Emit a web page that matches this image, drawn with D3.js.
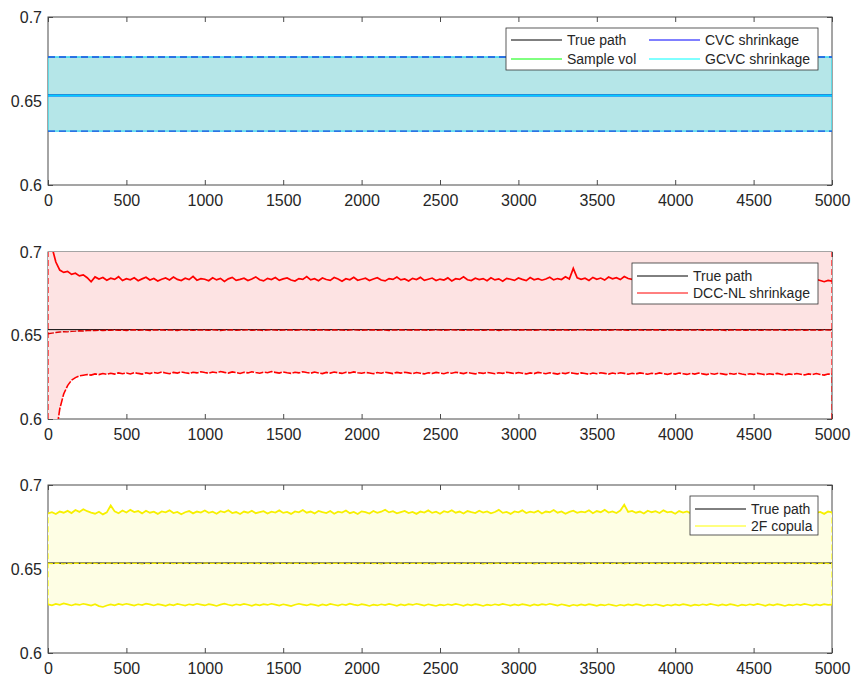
<!DOCTYPE html>
<html>
<head>
<meta charset="utf-8">
<script src="https://cdn.jsdelivr.net/npm/d3@7"></script>
<style>
  html, body { margin: 0; padding: 0; background: #fff; }
  svg { display: block; font-family: "Liberation Sans", Arial, Helvetica, sans-serif; }
</style>
</head>
<body>
<svg id="chart" width="851" height="677"></svg>
<script>
// ---------- data ----------
const xTicks = [0, 500, 1000, 1500, 2000, 2500, 3000, 3500, 4000, 4500, 5000];
const yTicks = [0.6, 0.65, 0.7];
const yTickLabels = ["0.6", "0.65", "0.7"];

// constant paths (defined at the two end points)
const flatSteps = [0, 5000];
const truePath = [0.6535, 0.6535];
const cvcUpper = [0.6762, 0.6762];
const cvcMid = [0.6533, 0.6533];
const cvcLower = [0.6321, 0.6321];
const gcvcUpper = [0.6762, 0.6762];
const gcvcMid = [0.6533, 0.6533];
const gcvcLower = [0.6321, 0.6321];

// simulated paths, sampled every 25 steps
const steps = d3.range(0, 5001, 25);

const dccUpper = [
  0.7600, 0.7030, 0.6940, 0.6892, 0.6878, 0.6884, 0.6866, 0.6873, 0.6857, 0.6863,
  0.6846, 0.6822, 0.6851, 0.6838, 0.6847, 0.6831, 0.6843, 0.6836, 0.6852, 0.6829,
  0.6840, 0.6834, 0.6846, 0.6828, 0.6839, 0.6849, 0.6832, 0.6841, 0.6826, 0.6837,
  0.6845, 0.6833, 0.6850, 0.6836, 0.6829, 0.6843, 0.6835, 0.6854, 0.6831, 0.6840,
  0.6837, 0.6828, 0.6846, 0.6833, 0.6842, 0.6824, 0.6839, 0.6848, 0.6830, 0.6836,
  0.6843, 0.6829, 0.6838, 0.6851, 0.6834, 0.6827, 0.6842, 0.6835, 0.6847, 0.6830,
  0.6839, 0.6845, 0.6832, 0.6826, 0.6841, 0.6836, 0.6853, 0.6833, 0.6840, 0.6828,
  0.6844, 0.6835, 0.6830, 0.6847, 0.6838, 0.6825, 0.6840, 0.6834, 0.6849, 0.6831,
  0.6837, 0.6843, 0.6829, 0.6838, 0.6846, 0.6832, 0.6827, 0.6841, 0.6836, 0.6850,
  0.6833, 0.6839, 0.6826, 0.6842, 0.6835, 0.6848, 0.6830, 0.6837, 0.6844, 0.6829,
  0.6838, 0.6832, 0.6845, 0.6827, 0.6840, 0.6836, 0.6851, 0.6834, 0.6829, 0.6843,
  0.6835, 0.6841, 0.6828, 0.6846, 0.6833, 0.6839, 0.6825, 0.6842, 0.6837, 0.6830,
  0.6844, 0.6836, 0.6829, 0.6847, 0.6834, 0.6840, 0.6831, 0.6838, 0.6849, 0.6833,
  0.6841, 0.6835, 0.6852, 0.6838, 0.6902, 0.6845, 0.6836, 0.6843, 0.6830, 0.6848,
  0.6837, 0.6844, 0.6832, 0.6850, 0.6839, 0.6846, 0.6835, 0.6853, 0.6841, 0.6836,
  0.6847, 0.6838, 0.6844, 0.6833, 0.6851, 0.6840, 0.6846, 0.6837, 0.6843, 0.6832,
  0.6845, 0.6839, 0.6848, 0.6834, 0.6842, 0.6850, 0.6836, 0.6844, 0.6831, 0.6840,
  0.6846, 0.6835, 0.6841, 0.6829, 0.6843, 0.6837, 0.6849, 0.6833, 0.6838, 0.6827,
  0.6840, 0.6834, 0.6845, 0.6830, 0.6836, 0.6842, 0.6828, 0.6838, 0.6833, 0.6844,
  0.6831, 0.6837, 0.6826, 0.6840, 0.6833, 0.6824, 0.6836, 0.6829, 0.6822, 0.6830,
  0.6825
];

const dccMid = [
  0.6510, 0.6514, 0.6518, 0.6521, 0.6523, 0.6522, 0.6525, 0.6526, 0.6528, 0.6527,
  0.6529, 0.6530, 0.6529, 0.6531, 0.6530, 0.6532, 0.6531, 0.6533, 0.6531, 0.6532,
  0.6530, 0.6532, 0.6534, 0.6531, 0.6533, 0.6532, 0.6530, 0.6533, 0.6532, 0.6534,
  0.6531, 0.6533, 0.6532, 0.6530, 0.6534, 0.6532, 0.6533, 0.6531, 0.6533, 0.6532,
  0.6533, 0.6531, 0.6534, 0.6532, 0.6530, 0.6533, 0.6532, 0.6534, 0.6531, 0.6533,
  0.6532, 0.6534, 0.6531, 0.6533, 0.6532, 0.6530, 0.6533, 0.6534, 0.6532, 0.6531,
  0.6533, 0.6532, 0.6534, 0.6531, 0.6533, 0.6535, 0.6532, 0.6533, 0.6531, 0.6534,
  0.6532, 0.6533, 0.6531, 0.6534, 0.6532, 0.6533, 0.6530, 0.6533, 0.6534, 0.6532,
  0.6531, 0.6533, 0.6532, 0.6534, 0.6531, 0.6533, 0.6532, 0.6530, 0.6533, 0.6532,
  0.6534, 0.6532, 0.6533, 0.6531, 0.6534, 0.6532, 0.6533, 0.6531, 0.6532, 0.6534,
  0.6532, 0.6531, 0.6533, 0.6534, 0.6532, 0.6533, 0.6531, 0.6533, 0.6532, 0.6534,
  0.6533, 0.6531, 0.6532, 0.6534, 0.6533, 0.6530, 0.6533, 0.6532, 0.6534, 0.6532,
  0.6531, 0.6534, 0.6532, 0.6533, 0.6531, 0.6533, 0.6534, 0.6532, 0.6533, 0.6531,
  0.6533, 0.6532, 0.6534, 0.6531, 0.6533, 0.6532, 0.6535, 0.6532, 0.6533, 0.6531,
  0.6534, 0.6532, 0.6533, 0.6531, 0.6533, 0.6534, 0.6532, 0.6533, 0.6531, 0.6533,
  0.6532, 0.6534, 0.6531, 0.6533, 0.6532, 0.6534, 0.6533, 0.6531, 0.6533, 0.6532,
  0.6533, 0.6531, 0.6534, 0.6532, 0.6533, 0.6532, 0.6534, 0.6531, 0.6533, 0.6532,
  0.6534, 0.6532, 0.6533, 0.6530, 0.6533, 0.6532, 0.6534, 0.6533, 0.6531, 0.6533,
  0.6532, 0.6533, 0.6531, 0.6534, 0.6532, 0.6533, 0.6532, 0.6534, 0.6531, 0.6533,
  0.6533, 0.6532, 0.6534, 0.6531, 0.6533, 0.6532, 0.6533, 0.6531, 0.6534, 0.6532,
  0.6533
];

const dccLower = [
  0.5000, 0.5600, 0.5900, 0.6060, 0.6150, 0.6200, 0.6232, 0.6248, 0.6258, 0.6262,
  0.6266, 0.6263, 0.6270, 0.6266, 0.6272, 0.6268, 0.6274, 0.6269, 0.6276, 0.6271,
  0.6275, 0.6270, 0.6278, 0.6273, 0.6269, 0.6277, 0.6272, 0.6279, 0.6274, 0.6281,
  0.6276, 0.6271, 0.6279, 0.6275, 0.6282, 0.6277, 0.6273, 0.6280, 0.6276, 0.6283,
  0.6278, 0.6274, 0.6281, 0.6277, 0.6284, 0.6279, 0.6275, 0.6282, 0.6278, 0.6273,
  0.6280, 0.6276, 0.6283, 0.6278, 0.6274, 0.6281, 0.6277, 0.6284, 0.6279, 0.6275,
  0.6282, 0.6277, 0.6273, 0.6280, 0.6276, 0.6283, 0.6278, 0.6274, 0.6281, 0.6276,
  0.6272, 0.6279, 0.6275, 0.6281, 0.6277, 0.6273, 0.6280, 0.6276, 0.6282, 0.6277,
  0.6274, 0.6279, 0.6275, 0.6271, 0.6278, 0.6274, 0.6280, 0.6276, 0.6272, 0.6279,
  0.6275, 0.6280, 0.6276, 0.6272, 0.6278, 0.6274, 0.6270, 0.6277, 0.6273, 0.6279,
  0.6275, 0.6271, 0.6278, 0.6274, 0.6280, 0.6276, 0.6272, 0.6278, 0.6274, 0.6270,
  0.6277, 0.6273, 0.6279, 0.6275, 0.6271, 0.6277, 0.6273, 0.6280, 0.6276, 0.6272,
  0.6278, 0.6274, 0.6270, 0.6276, 0.6272, 0.6279, 0.6275, 0.6271, 0.6277, 0.6273,
  0.6269, 0.6276, 0.6272, 0.6278, 0.6274, 0.6270, 0.6276, 0.6272, 0.6268, 0.6275,
  0.6271, 0.6277, 0.6273, 0.6269, 0.6275, 0.6271, 0.6277, 0.6273, 0.6268, 0.6274,
  0.6270, 0.6276, 0.6272, 0.6268, 0.6274, 0.6270, 0.6276, 0.6271, 0.6267, 0.6273,
  0.6269, 0.6275, 0.6271, 0.6267, 0.6273, 0.6269, 0.6275, 0.6270, 0.6266, 0.6272,
  0.6268, 0.6274, 0.6270, 0.6266, 0.6272, 0.6268, 0.6274, 0.6269, 0.6265, 0.6271,
  0.6267, 0.6273, 0.6269, 0.6265, 0.6271, 0.6267, 0.6273, 0.6268, 0.6264, 0.6270,
  0.6266, 0.6272, 0.6268, 0.6264, 0.6270, 0.6266, 0.6272, 0.6267, 0.6263, 0.6269,
  0.6268
];

const copulaUpper = [
  0.6831, 0.6838, 0.6827, 0.6842, 0.6835, 0.6846, 0.6833, 0.6851, 0.6840, 0.6856,
  0.6844, 0.6836, 0.6829, 0.6841, 0.6825, 0.6837, 0.6878, 0.6843, 0.6832, 0.6848,
  0.6836, 0.6852, 0.6839, 0.6845, 0.6831, 0.6847, 0.6835, 0.6841, 0.6828, 0.6843,
  0.6837, 0.6849, 0.6833, 0.6840, 0.6826, 0.6838, 0.6845, 0.6831, 0.6842, 0.6836,
  0.6848, 0.6834, 0.6841, 0.6829, 0.6844, 0.6837, 0.6850, 0.6833, 0.6839, 0.6827,
  0.6842, 0.6835, 0.6847, 0.6832, 0.6838, 0.6844, 0.6830, 0.6841, 0.6836, 0.6849,
  0.6834, 0.6840, 0.6828, 0.6843, 0.6837, 0.6851, 0.6835, 0.6842, 0.6831, 0.6846,
  0.6839, 0.6833, 0.6845, 0.6829, 0.6841, 0.6836, 0.6848, 0.6832, 0.6840, 0.6827,
  0.6843, 0.6838, 0.6830, 0.6845, 0.6834, 0.6841, 0.6853, 0.6837, 0.6844, 0.6831,
  0.6839, 0.6846, 0.6833, 0.6840, 0.6828, 0.6842, 0.6836, 0.6849, 0.6834, 0.6841,
  0.6829, 0.6844, 0.6837, 0.6850, 0.6835, 0.6842, 0.6830, 0.6845, 0.6838, 0.6833,
  0.6847, 0.6836, 0.6843, 0.6831, 0.6839, 0.6852, 0.6834, 0.6840, 0.6828, 0.6843,
  0.6837, 0.6849, 0.6833, 0.6841, 0.6836, 0.6846, 0.6830, 0.6842, 0.6838, 0.6851,
  0.6835, 0.6843, 0.6829, 0.6840, 0.6847, 0.6834, 0.6841, 0.6837, 0.6850, 0.6832,
  0.6845, 0.6838, 0.6852, 0.6836, 0.6843, 0.6833, 0.6848, 0.6882, 0.6840, 0.6846,
  0.6835, 0.6842, 0.6830, 0.6847, 0.6838, 0.6844, 0.6833, 0.6849, 0.6837, 0.6841,
  0.6829, 0.6845, 0.6836, 0.6843, 0.6831, 0.6848, 0.6839, 0.6834, 0.6846, 0.6832,
  0.6840, 0.6837, 0.6851, 0.6835, 0.6842, 0.6830, 0.6845, 0.6838, 0.6833, 0.6847,
  0.6836, 0.6843, 0.6829, 0.6841, 0.6848, 0.6834, 0.6840, 0.6837, 0.6850, 0.6833,
  0.6845, 0.6838, 0.6831, 0.6843, 0.6836, 0.6849, 0.6834, 0.6840, 0.6828, 0.6842,
  0.6837
];

const copulaMid = [
  0.6534, 0.6532, 0.6535, 0.6533, 0.6531, 0.6534, 0.6532, 0.6535, 0.6533, 0.6534,
  0.6532, 0.6535, 0.6533, 0.6531, 0.6534, 0.6533, 0.6535, 0.6532, 0.6534, 0.6533,
  0.6535, 0.6532, 0.6534, 0.6533, 0.6531, 0.6534, 0.6532, 0.6535, 0.6533, 0.6534,
  0.6533, 0.6535, 0.6532, 0.6534, 0.6533, 0.6535, 0.6531, 0.6534, 0.6532, 0.6533,
  0.6535, 0.6533, 0.6534, 0.6532, 0.6535, 0.6533, 0.6531, 0.6534, 0.6533, 0.6535,
  0.6532, 0.6534, 0.6533, 0.6535, 0.6532, 0.6534, 0.6533, 0.6531, 0.6535, 0.6533,
  0.6534, 0.6532, 0.6535, 0.6533, 0.6534, 0.6532, 0.6535, 0.6533, 0.6531, 0.6534,
  0.6533, 0.6535, 0.6532, 0.6534, 0.6533, 0.6535, 0.6532, 0.6534, 0.6533, 0.6531,
  0.6534, 0.6533, 0.6535, 0.6532, 0.6534, 0.6531, 0.6535, 0.6533, 0.6534, 0.6532,
  0.6535, 0.6533, 0.6532, 0.6534, 0.6533, 0.6535, 0.6532, 0.6534, 0.6531, 0.6533,
  0.6534, 0.6532, 0.6535, 0.6533, 0.6534, 0.6532, 0.6533, 0.6535, 0.6532, 0.6534,
  0.6533, 0.6531, 0.6534, 0.6532, 0.6535, 0.6533, 0.6534, 0.6532, 0.6535, 0.6533,
  0.6532, 0.6534, 0.6533, 0.6535, 0.6531, 0.6534, 0.6532, 0.6533, 0.6535, 0.6532,
  0.6534, 0.6533, 0.6535, 0.6532, 0.6534, 0.6533, 0.6531, 0.6535, 0.6533, 0.6534,
  0.6532, 0.6535, 0.6533, 0.6534, 0.6532, 0.6535, 0.6533, 0.6531, 0.6534, 0.6533,
  0.6535, 0.6532, 0.6534, 0.6533, 0.6535, 0.6532, 0.6534, 0.6533, 0.6532, 0.6535,
  0.6533, 0.6534, 0.6532, 0.6535, 0.6533, 0.6531, 0.6534, 0.6532, 0.6535, 0.6533,
  0.6534, 0.6532, 0.6535, 0.6533, 0.6534, 0.6532, 0.6533, 0.6535, 0.6531, 0.6534,
  0.6532, 0.6535, 0.6533, 0.6534, 0.6532, 0.6534, 0.6533, 0.6535, 0.6532, 0.6534,
  0.6533, 0.6534, 0.6532, 0.6535, 0.6533, 0.6534, 0.6531, 0.6533, 0.6535, 0.6532,
  0.6534
];

const copulaLower = [
  0.6290, 0.6284, 0.6292, 0.6287, 0.6295, 0.6289, 0.6283, 0.6291, 0.6286, 0.6293,
  0.6288, 0.6282, 0.6290, 0.6279, 0.6274, 0.6283, 0.6289, 0.6284, 0.6292, 0.6287,
  0.6293, 0.6288, 0.6282, 0.6290, 0.6285, 0.6294, 0.6289, 0.6283, 0.6291, 0.6286,
  0.6281, 0.6289, 0.6284, 0.6292, 0.6287, 0.6282, 0.6290, 0.6285, 0.6293, 0.6288,
  0.6283, 0.6291, 0.6286, 0.6280, 0.6288, 0.6294, 0.6287, 0.6282, 0.6290, 0.6285,
  0.6292, 0.6287, 0.6281, 0.6289, 0.6284, 0.6291, 0.6286, 0.6293, 0.6288, 0.6282,
  0.6290, 0.6285, 0.6279, 0.6287, 0.6293, 0.6288, 0.6283, 0.6291, 0.6286, 0.6281,
  0.6289, 0.6284, 0.6292, 0.6287, 0.6282, 0.6290, 0.6285, 0.6294, 0.6288, 0.6283,
  0.6291, 0.6286, 0.6280, 0.6288, 0.6283, 0.6290, 0.6285, 0.6292, 0.6287, 0.6281,
  0.6289, 0.6284, 0.6291, 0.6286, 0.6293, 0.6288, 0.6282, 0.6290, 0.6285, 0.6280,
  0.6288, 0.6283, 0.6290, 0.6285, 0.6292, 0.6287, 0.6281, 0.6289, 0.6284, 0.6291,
  0.6286, 0.6280, 0.6288, 0.6283, 0.6290, 0.6285, 0.6292, 0.6287, 0.6282, 0.6289,
  0.6284, 0.6291, 0.6286, 0.6281, 0.6289, 0.6284, 0.6291, 0.6286, 0.6293, 0.6288,
  0.6282, 0.6290, 0.6285, 0.6279, 0.6287, 0.6282, 0.6289, 0.6284, 0.6291, 0.6286,
  0.6281, 0.6288, 0.6283, 0.6290, 0.6285, 0.6280, 0.6287, 0.6282, 0.6289, 0.6284,
  0.6291, 0.6286, 0.6280, 0.6288, 0.6283, 0.6290, 0.6285, 0.6279, 0.6287, 0.6282,
  0.6289, 0.6284, 0.6291, 0.6286, 0.6281, 0.6288, 0.6283, 0.6290, 0.6285, 0.6292,
  0.6287, 0.6282, 0.6289, 0.6284, 0.6291, 0.6286, 0.6280, 0.6288, 0.6283, 0.6290,
  0.6285, 0.6292, 0.6287, 0.6281, 0.6289, 0.6284, 0.6291, 0.6286, 0.6280, 0.6288,
  0.6283, 0.6290, 0.6285, 0.6292, 0.6287, 0.6282, 0.6289, 0.6284, 0.6291, 0.6286,
  0.6288
];

const legendTop = [
  { label: "True path", color: "#000000" },
  { label: "Sample vol", color: "#00ff00" },
  { label: "CVC shrinkage", color: "#0000ff" },
  { label: "GCVC shrinkage", color: "#00ffff" }
];
const legendMid = [
  { label: "True path", color: "#000000" },
  { label: "DCC-NL shrinkage", color: "#ff0000" }
];
const legendBottom = [
  { label: "True path", color: "#000000" },
  { label: "2F copula", color: "#ffff00" }
];

// ---------- layout ----------
const svg = d3.select("#chart");
const plotLeft = 48, plotRight = 832;
const panels = [
  { top: 17, bottom: 185 },
  { top: 252, bottom: 419 },
  { top: 485, bottom: 653 }
];
const x = d3.scaleLinear().domain([0, 5000]).range([plotLeft, plotRight]);
const axisColor = "#4a4a4a";
const textColor = "#262626";

function pts(ts, vs) { return ts.map((t, i) => [t, vs[i]]); }

function makePanel(idx) {
  const p = panels[idx];
  const y = d3.scaleLinear().domain([0.6, 0.7]).range([p.bottom, p.top]);
  const g = svg.append("g");

  // clip region for the data
  const clipId = "clip" + idx;
  svg.append("defs").append("clipPath").attr("id", clipId)
    .append("rect").attr("x", plotLeft).attr("y", p.top)
    .attr("width", plotRight - plotLeft).attr("height", p.bottom - p.top);

  // axes: bottom & left with labels, top & right ticks only
  const bottomAx = g.append("g").attr("transform", `translate(0,${p.bottom})`)
    .call(d3.axisBottom(x).tickValues(xTicks).tickFormat(d3.format("d"))
      .tickSizeInner(-5).tickSizeOuter(0).tickPadding(10));
  const topAx = g.append("g").attr("transform", `translate(0,${p.top})`)
    .call(d3.axisTop(x).tickValues(xTicks).tickFormat("")
      .tickSizeInner(-5).tickSizeOuter(0));
  const leftAx = g.append("g").attr("transform", `translate(${plotLeft},0)`)
    .call(d3.axisLeft(y).tickValues(yTicks).tickFormat((d, i) => yTickLabels[i])
      .tickSizeInner(-5).tickSizeOuter(0).tickPadding(6));
  const rightAx = g.append("g").attr("transform", `translate(${plotRight},0)`)
    .call(d3.axisRight(y).tickValues(yTicks).tickFormat("")
      .tickSizeInner(-5).tickSizeOuter(0));
  [bottomAx, topAx, leftAx, rightAx].forEach(a => {
    a.select(".domain").remove();
    a.selectAll("line").attr("stroke", axisColor);
    a.selectAll("text").attr("fill", textColor).style("font-size", "16px")
      .style("font-family", "'Liberation Sans', Arial, sans-serif");
  });
  g.append("rect").attr("x", plotLeft).attr("y", p.top)
    .attr("width", plotRight - plotLeft).attr("height", p.bottom - p.top)
    .attr("fill", "none").attr("stroke", axisColor).attr("stroke-width", 1);

  const data = svg.append("g").attr("clip-path", `url(#${clipId})`);
  return { y, data, p };
}

function lineOf(y) {
  return d3.line().x(d => x(d[0])).y(d => y(d[1]));
}

function drawLegend(items, box, cols) {
  const g = svg.append("g");
  g.append("rect").attr("x", box.x).attr("y", box.y).attr("width", box.w).attr("height", box.h)
    .attr("fill", "#fff").attr("stroke", "#333").attr("stroke-width", 0.8);
  items.forEach((it, i) => {
    const c = cols.colOf(i), r = cols.rowOf(i);
    const lx = box.x + 5 + c * cols.colW;
    const ly = box.y + cols.rowY[r];
    g.append("line").attr("x1", lx).attr("x2", lx + 51).attr("y1", ly).attr("y2", ly)
      .attr("stroke", it.color).attr("stroke-width", 1);
    g.append("text").attr("x", lx + 56).attr("y", ly).attr("dy", "0.35em")
      .attr("fill", textColor).style("font-size", "14px").text(it.label);
  });
}

// ---------- panel 1: CVC / GCVC ----------
{
  const { y, data } = makePanel(0);
  const line = lineOf(y);
  const band = d3.area().x(d => x(d[0])).y0(d => y(d[1])).y1(d => y(d[2]));
  data.append("path").datum(flatSteps.map((t, i) => [t, gcvcLower[i], gcvcUpper[i]]))
    .attr("d", band).attr("fill", "#b5e6e8");
  // band edges
  [0, flatSteps.length - 1].forEach(i => {
    data.append("line").attr("x1", x(flatSteps[i])).attr("x2", x(flatSteps[i]))
      .attr("y1", y(gcvcLower[i])).attr("y2", y(gcvcUpper[i]))
      .attr("stroke", "#2ad4e6").attr("stroke-width", 1.2);
  });
  [gcvcUpper, gcvcLower].forEach(s => data.append("path").datum(pts(flatSteps, s))
    .attr("d", line).attr("fill", "none").attr("stroke", "#33d6ee").attr("stroke-width", 1.3));
  [cvcUpper, cvcLower].forEach(s => data.append("path").datum(pts(flatSteps, s))
    .attr("d", line).attr("fill", "none").attr("stroke", "#1a4fe0").attr("stroke-width", 1.3)
    .attr("stroke-dasharray", "7,4"));
  data.append("path").datum(pts(flatSteps, truePath)).attr("d", line)
    .attr("fill", "none").attr("stroke", "#000").attr("stroke-width", 1);
  data.append("path").datum(pts(flatSteps, cvcMid)).attr("d", line)
    .attr("fill", "none").attr("stroke", "#0000ff").attr("stroke-width", 2);
  data.append("path").datum(pts(flatSteps, gcvcMid)).attr("d", line)
    .attr("fill", "none").attr("stroke", "#00ffff").attr("stroke-width", 2).attr("stroke-opacity", 0.8);
  drawLegend(legendTop, { x: 506, y: 28, w: 312, h: 42 },
    { colOf: i => i < 2 ? 0 : 1, rowOf: i => i % 2, colW: 138, rowY: [12, 31] });
}

// ---------- panel 2: DCC-NL ----------
{
  const { y, data } = makePanel(1);
  const line = lineOf(y);
  const [yLo, yHi] = y.domain();
  const fillArea = d3.area().x(d => x(d[0])).y0(d => y(d[1])).y1(() => y(yHi));
  data.append("path").datum(pts(steps, dccLower)).attr("d", fillArea).attr("fill", "#fde3e3");
  // dashed edges of the shaded region
  [steps[0], steps[steps.length - 1]].forEach(t => {
    data.append("line").attr("x1", x(t)).attr("x2", x(t)).attr("y1", y(yLo)).attr("y2", y(yHi))
      .attr("stroke", "#ff0000").attr("stroke-width", 1.2).attr("stroke-dasharray", "6,3");
  });
  data.append("path").datum(pts(flatSteps, truePath)).attr("d", line)
    .attr("fill", "none").attr("stroke", "#000").attr("stroke-width", 1);
  data.append("path").datum(pts(steps, dccUpper)).attr("d", line)
    .attr("fill", "none").attr("stroke", "#ff0000").attr("stroke-width", 1.7);
  data.append("path").datum(pts(steps, dccMid)).attr("d", line)
    .attr("fill", "none").attr("stroke", "#e00000").attr("stroke-width", 1.4).attr("stroke-dasharray", "6,1.5");
  data.append("path").datum(pts(steps, dccLower)).attr("d", line)
    .attr("fill", "none").attr("stroke", "#ff0000").attr("stroke-width", 1.6).attr("stroke-dasharray", "8,1.5");
  drawLegend(legendMid, { x: 632, y: 263, w: 186, h: 41 },
    { colOf: () => 0, rowOf: i => i, colW: 0, rowY: [13, 30] });
}

// ---------- panel 3: 2F copula ----------
{
  const { y, data } = makePanel(2);
  const line = lineOf(y);
  const band = d3.area().x(d => x(d[0])).y0(d => y(d[1])).y1(d => y(d[2]));
  data.append("path").datum(steps.map((t, i) => [t, copulaLower[i], copulaUpper[i]]))
    .attr("d", band).attr("fill", "#fefee4");
  [0, steps.length - 1].forEach(i => {
    data.append("line").attr("x1", x(steps[i])).attr("x2", x(steps[i]))
      .attr("y1", y(copulaLower[i])).attr("y2", y(copulaUpper[i]))
      .attr("stroke", "#ffff00").attr("stroke-width", 1.2).attr("stroke-dasharray", "6,3");
  });
  data.append("path").datum(pts(flatSteps, truePath)).attr("d", line)
    .attr("fill", "none").attr("stroke", "#000").attr("stroke-width", 1.1);
  data.append("path").datum(pts(steps, copulaMid)).attr("d", line)
    .attr("fill", "none").attr("stroke", "#f2ea00").attr("stroke-width", 1.2).attr("stroke-dasharray", "5,1.5");
  data.append("path").datum(pts(steps, copulaUpper)).attr("d", line)
    .attr("fill", "none").attr("stroke", "#f7f000").attr("stroke-width", 1.8);
  data.append("path").datum(pts(steps, copulaLower)).attr("d", line)
    .attr("fill", "none").attr("stroke", "#f7f000").attr("stroke-width", 1.7);
  drawLegend(legendBottom, { x: 690, y: 496, w: 128, h: 39 },
    { colOf: () => 0, rowOf: i => i, colW: 0, rowY: [13, 30] });
}
</script>
</body>
</html>
